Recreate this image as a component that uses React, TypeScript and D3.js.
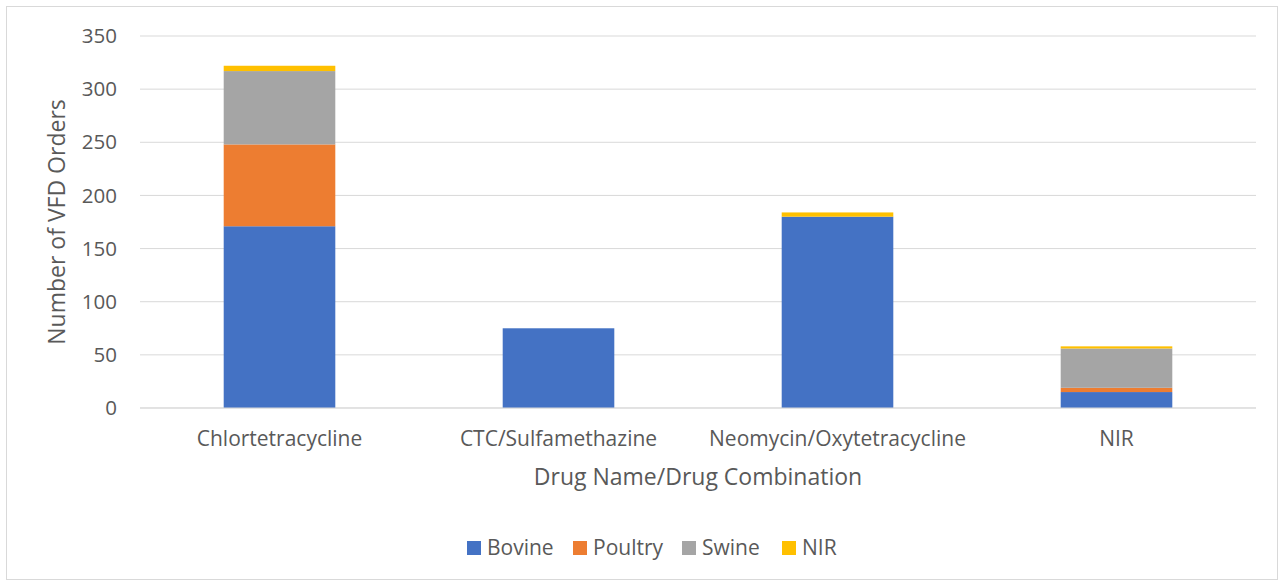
import React, { useEffect, useRef } from 'react';
import * as d3 from 'd3';

const categories = ['Chlortetracycline', 'CTC/Sulfamethazine', 'Neomycin/Oxytetracycline', 'NIR'];
const seriesNames = ['Bovine', 'Poultry', 'Swine', 'NIR'];
const bovine = [171, 75, 180, 15];
const poultry = [77, 0, 0, 4];
const swine = [69, 0, 0, 37];
const nir = [5, 0, 4, 2];
const yTicks = [0, 50, 100, 150, 200, 250, 300, 350];
const colors = ['#4472c4', '#ed7d31', '#a5a5a5', '#ffc000'];

const W = 1284;
const H = 586;
const FONT = '"Open Sans", Lato, sans-serif';

function App() {
  const ref = useRef<SVGSVGElement | null>(null);

  useEffect(() => {
    if (!ref.current) return;
    const svg = d3.select(ref.current);
    svg.selectAll('*').remove();

    svg.append('rect')
      .attr('x', 6.5).attr('y', 6.5)
      .attr('width', W - 13).attr('height', H - 13)
      .attr('fill', '#fff').attr('stroke', '#d9d9d9');

    const x = d3.scaleBand().domain(categories).range([140, 1256]).paddingInner(0.6).paddingOuter(0.3);
    const y = d3.scaleLinear().domain([0, 350]).range([408, 36]);

    // gridlines
    svg.append('g').selectAll('line')
      .data(yTicks)
      .enter()
      .append('line')
      .attr('x1', 140).attr('x2', 1256)
      .attr('y1', (d) => y(d)).attr('y2', (d) => y(d))
      .attr('stroke', '#d9d9d9').attr('stroke-width', 1);

    svg.append('g').selectAll('text')
      .data(yTicks)
      .enter()
      .append('text')
      .attr('x', 117).attr('y', (d) => y(d))
      .attr('dy', '0.35em')
      .attr('text-anchor', 'end')
      .attr('font-family', FONT).attr('font-size', 20.5).attr('fill', '#595959')
      .text((d) => d);

    const rows = categories.map((c, i) => ({
      cat: c, Bovine: bovine[i], Poultry: poultry[i], Swine: swine[i], NIR: nir[i]
    }));
    const stacked = d3.stack<any>().keys(seriesNames)(rows);

    stacked.forEach((layer, k) => {
      svg.append('g').selectAll('rect')
        .data(layer)
        .enter()
        .append('rect')
        .attr('x', (d: any) => x(d.data.cat) as number)
        .attr('width', x.bandwidth())
        .attr('y', (d) => y(d[1]))
        .attr('height', (d) => y(d[0]) - y(d[1]))
        .attr('fill', colors[k]);
    });

    svg.append('line')
      .attr('x1', 140).attr('x2', 1256).attr('y1', 408).attr('y2', 408)
      .attr('stroke', '#d9d9d9');

    svg.append('g').selectAll('text')
      .data(categories)
      .enter()
      .append('text')
      .attr('x', (d) => (x(d) as number) + x.bandwidth() / 2)
      .attr('y', 446)
      .attr('text-anchor', 'middle')
      .attr('font-family', FONT).attr('font-size', 21).attr('fill', '#595959')
      .text((d) => d);

    svg.append('text')
      .attr('x', 698).attr('y', 485)
      .attr('text-anchor', 'middle')
      .attr('font-family', FONT).attr('font-size', 23).attr('fill', '#595959')
      .text('Drug Name/Drug Combination');

    svg.append('text')
      .attr('transform', 'translate(65,222) rotate(-90)')
      .attr('text-anchor', 'middle')
      .attr('font-family', FONT).attr('font-size', 23).attr('fill', '#595959')
      .text('Number of VFD Orders');

    // legend
    const legendX = [467, 573, 682, 782];
    const legend = svg.append('g').selectAll('g')
      .data(seriesNames)
      .enter()
      .append('g')
      .attr('transform', (_, i) => `translate(${legendX[i]},548)`);
    legend.append('rect')
      .attr('x', 0).attr('y', -7).attr('width', 14).attr('height', 14)
      .attr('fill', (_, i) => colors[i]);
    legend.append('text')
      .attr('x', 20).attr('y', 0).attr('dy', '0.35em')
      .attr('font-family', FONT).attr('font-size', 21).attr('fill', '#595959')
      .text((d) => d);
  }, []);

  return (
    <div style={{ position: 'absolute', left: 0, top: 0 }}>
      <svg ref={ref} width={W} height={H} style={{ display: 'block' }} />
    </div>
  );
}

export default App;
